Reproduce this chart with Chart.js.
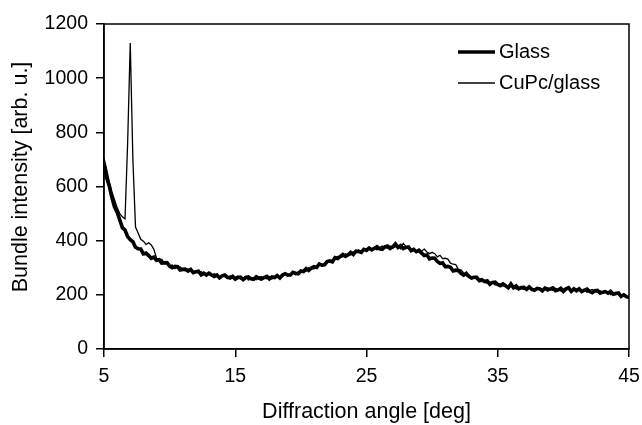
<!DOCTYPE html>
<html>
<head>
<meta charset="utf-8">
<script src="https://cdn.jsdelivr.net/npm/chart.js@4.4.0/dist/chart.umd.min.js"></script>
<style>
  html, body { margin: 0; padding: 0; background: #fff; }
</style>
</head>
<body>
<canvas id="chart" width="642" height="425"></canvas>
<script>
// diffraction angle, deg (0.2 deg steps)
var angles = [
  5.0,5.2,5.4,5.6,5.8,6.0,6.2,6.4,6.6,6.8,7.0,7.2,7.4,7.6,7.8,8.0,8.2,8.4,8.6,8.8,
  9.0,9.2,9.4,9.6,9.8,10.0,10.2,10.4,10.6,10.8,11.0,11.2,11.4,11.6,11.8,12.0,12.2,12.4,12.6,12.8,
  13.0,13.2,13.4,13.6,13.8,14.0,14.2,14.4,14.6,14.8,15.0,15.2,15.4,15.6,15.8,16.0,16.2,16.4,16.6,16.8,
  17.0,17.2,17.4,17.6,17.8,18.0,18.2,18.4,18.6,18.8,19.0,19.2,19.4,19.6,19.8,20.0,20.2,20.4,20.6,20.8,
  21.0,21.2,21.4,21.6,21.8,22.0,22.2,22.4,22.6,22.8,23.0,23.2,23.4,23.6,23.8,24.0,24.2,24.4,24.6,24.8,
  25.0,25.2,25.4,25.6,25.8,26.0,26.2,26.4,26.6,26.8,27.0,27.2,27.4,27.6,27.8,28.0,28.2,28.4,28.6,28.8,
  29.0,29.2,29.4,29.6,29.8,30.0,30.2,30.4,30.6,30.8,31.0,31.2,31.4,31.6,31.8,32.0,32.2,32.4,32.6,32.8,
  33.0,33.2,33.4,33.6,33.8,34.0,34.2,34.4,34.6,34.8,35.0,35.2,35.4,35.6,35.8,36.0,36.2,36.4,36.6,36.8,
  37.0,37.2,37.4,37.6,37.8,38.0,38.2,38.4,38.6,38.8,39.0,39.2,39.4,39.6,39.8,40.0,40.2,40.4,40.6,40.8,
  41.0,41.2,41.4,41.6,41.8,42.0,42.2,42.4,42.6,42.8,43.0,43.2,43.4,43.6,43.8,44.0,44.2,44.4,44.6,44.8,
  45.0
];

var glass = [
  680,633,602,560,525,505,477,448,439,415,404,396,376,370,369,351,354,345,335,339,
  328,330,317,318,319,306,300,305,304,292,294,295,288,294,282,285,287,274,280,273,
  280,273,268,273,263,270,273,265,262,268,258,264,265,256,264,266,259,257,267,261,
  258,264,268,259,266,264,271,262,273,278,273,273,283,280,278,288,286,297,290,299,
  304,301,314,310,311,323,325,322,337,334,342,349,342,348,357,349,361,360,357,368,
  364,373,366,372,378,370,368,377,380,371,377,388,375,382,371,375,377,363,368,359,
  363,354,345,347,333,336,335,323,316,318,304,305,302,288,291,290,279,273,279,268,
  262,265,265,252,255,249,252,239,246,247,238,234,240,233,226,240,226,233,222,227,
  228,220,229,220,217,224,222,215,225,218,222,226,215,218,224,213,222,226,213,222,
  215,222,212,217,221,212,208,215,216,206,210,212,206,213,202,205,207,194,200,193,
  190
];

var cupc = [
  705,664,618,580,551,522,500,488,480,760,1130,700,450,428,405,398,386,392,384,368,
  335,332,331,317,318,307,310,297,303,303,293,289,295,288,281,287,280,286,274,278,
  279,270,278,268,264,271,268,260,270,262,265,269,258,261,267,255,264,261,256,266,
  267,262,259,267,259,268,273,267,267,276,269,277,281,274,285,290,286,287,300,296,
  296,306,313,307,317,318,328,322,335,342,339,340,351,349,347,358,356,366,358,366,
  371,368,366,374,366,375,380,374,373,380,372,378,380,370,390,379,370,365,372,361,
  370,361,369,358,352,357,352,340,346,334,335,332,317,313,312,293,292,281,270,273,
  264,268,256,258,260,248,242,247,247,236,239,240,233,239,227,230,233,221,228,222,
  220,225,228,217,223,219,225,215,223,226,219,217,224,219,214,222,217,224,214,220,
  222,217,212,219,209,217,220,212,209,215,205,210,211,201,208,209,200,196,204,195,
  188
];

var seriesNames = ["Glass", "CuPc/glass"];
var lineWidths = [3.6, 1.3];

var yTicks = [0, 200, 400, 600, 800, 1000, 1200];
var xTicks = [5, 15, 25, 35, 45];
var yTitle = "Bundle intensity [arb. u.]";
var xTitle = "Diffraction angle [deg]";

function toPoints(values) {
  return values.map(function (v, i) { return { x: angles[i], y: v }; });
}

var fontFam = "'Liberation Sans', Arial, Helvetica, sans-serif";

// frame round the plot area
var framePlugin = {
  id: "frame",
  afterDatasetsDraw: function (chart) {
    var a = chart.chartArea, ctx = chart.ctx;
    ctx.save();
    ctx.strokeStyle = "#000";
    ctx.lineWidth = 1.5;
    ctx.strokeRect(a.left, a.top, a.right - a.left, a.bottom - a.top);
    ctx.restore();
  }
};

// legend in the upper right of the plot, plus the vertical axis title
var legendPlugin = {
  id: "innerLegend",
  afterDraw: function (chart) {
    var ctx = chart.ctx;
    ctx.save();
    ctx.font = "20px " + fontFam;
    ctx.fillStyle = "#000";
    ctx.textBaseline = "middle";
    chart.data.datasets.forEach(function (ds, i) {
      var y = 52 + i * 31;
      ctx.strokeStyle = "#000";
      ctx.lineWidth = ds.borderWidth;
      ctx.beginPath();
      ctx.moveTo(458, y);
      ctx.lineTo(495, y);
      ctx.stroke();
      ctx.fillText(ds.label, 499, y);
    });

    ctx.translate(21, 177);
    ctx.rotate(-Math.PI / 2);
    ctx.font = "21.5px " + fontFam;
    ctx.textAlign = "center";
    ctx.fillText(yTitle, 0, 0);
    ctx.restore();
  }
};

function plain(v) { return String(v); }

var chart = new Chart(document.getElementById("chart"), {
  type: "line",
  data: {
    datasets: [
      {
        label: seriesNames[0],
        data: toPoints(glass),
        borderColor: "#000",
        borderWidth: lineWidths[0],
        pointRadius: 0,
        tension: 0,
        fill: false
      },
      {
        label: seriesNames[1],
        data: toPoints(cupc),
        borderColor: "#000",
        borderWidth: lineWidths[1],
        pointRadius: 0,
        tension: 0,
        fill: false
      }
    ]
  },
  options: {
    responsive: false,
    animation: false,
    devicePixelRatio: 1,
    layout: { padding: { left: 0, right: 13, top: 24, bottom: 0 } },
    plugins: {
      legend: { display: false },
      tooltip: { enabled: false }
    },
    scales: {
      x: {
        type: "linear",
        min: 5,
        max: 45,
        afterBuildTicks: function (s) { s.ticks = xTicks.map(function (v) { return { value: v }; }); },
        afterFit: function (s) { s.height = 76; s.paddingRight = 0; s.paddingLeft = 0; },
        ticks: { color: "#000", font: { family: fontFam, size: 19.5 }, padding: 8, maxRotation: 0, callback: plain },
        grid: { drawOnChartArea: false, color: "#000", lineWidth: 1.5, tickLength: 8 },
        border: { color: "#000", width: 1.5 },
        title: {
          display: true,
          text: xTitle,
          color: "#000",
          font: { family: fontFam, size: 21.5 },
          padding: { top: 4, bottom: 0 }
        }
      },
      y: {
        min: 0,
        max: 1200,
        afterBuildTicks: function (s) { s.ticks = yTicks.map(function (v) { return { value: v }; }); },
        afterFit: function (s) { s.width = 104; },
        ticks: { color: "#000", font: { family: fontFam, size: 19.5 }, padding: 8, callback: plain },
        grid: { drawOnChartArea: false, color: "#000", lineWidth: 1.5, tickLength: 8 },
        border: { color: "#000", width: 1.5 }
      }
    }
  },
  plugins: [framePlugin, legendPlugin]
});
</script>
</body>
</html>
